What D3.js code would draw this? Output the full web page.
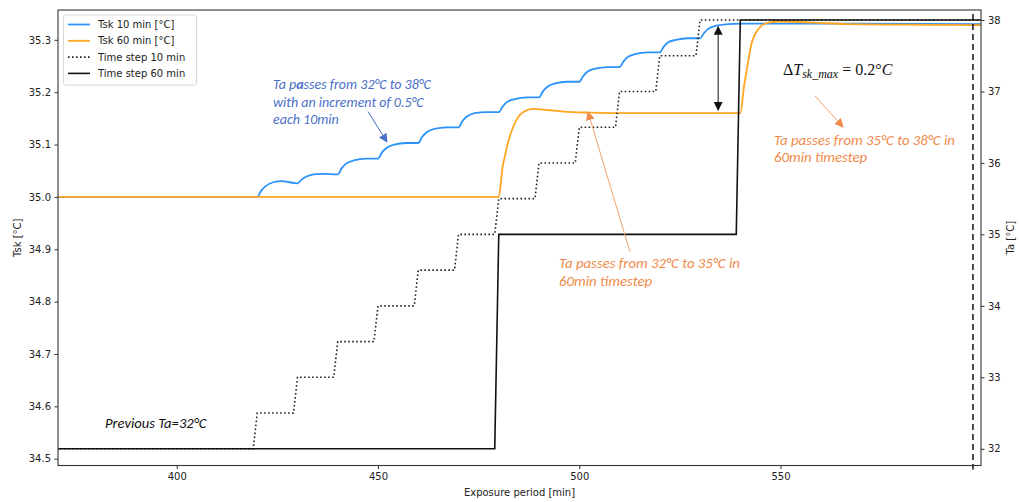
<!DOCTYPE html>
<html>
<head>
  <script src="https://d3js.org/d3.v7.min.js"></script>
  <style>
    body { margin: 0; background: #fff; }
    .tick text { font-family: "DejaVu Sans", sans-serif; font-size: 10px; fill: #222; }
    .axlabel { font-family: "DejaVu Sans", sans-serif; font-size: 10px; fill: #222; }
    .note { font-family: Carlito, Lato, sans-serif; font-style: italic; font-size: 14px; }
  </style>
</head>
<body>
<svg width="1019" height="502"></svg>
<script>
  // Tsk with 10 min time step, [minute, degC]
  const tsk10 = [
    [370, 35.000], [420, 35.000], [421, 35.012], [422, 35.020], [424, 35.028], [426, 35.030], [430, 35.026],
    [431, 35.033], [432, 35.038], [434, 35.043], [436, 35.044], [440, 35.043],
    [441, 35.055], [442, 35.063], [444, 35.070], [447, 35.073], [450, 35.073],
    [451, 35.085], [452, 35.093], [454, 35.100], [457, 35.103], [460, 35.103],
    [461, 35.115], [462, 35.123], [464, 35.130], [467, 35.133], [470, 35.133],
    [471, 35.145], [472, 35.153], [474, 35.160], [477, 35.162], [480, 35.162],
    [481, 35.173], [482, 35.181], [484, 35.187], [487, 35.190], [490, 35.190],
    [491, 35.202], [492, 35.210], [494, 35.217], [497, 35.220], [500, 35.220],
    [501, 35.231], [502, 35.239], [504, 35.245], [507, 35.248], [510, 35.248],
    [511, 35.259], [512, 35.267], [514, 35.273], [517, 35.276], [520, 35.276],
    [521, 35.287], [522, 35.295], [524, 35.300], [527, 35.303], [530, 35.303],
    [531, 35.313], [532, 35.321], [534, 35.327], [537, 35.330], [540, 35.331],
    [560, 35.331], [600, 35.330]
  ];
  // Tsk with 60 min time step
  const tsk60 = [
    [370, 35.000], [480, 35.000], [481, 35.060], [481.5, 35.077], [482.5, 35.110], [483.6, 35.134],
    [486.1, 35.162], [488.6, 35.168], [492, 35.166], [496, 35.163], [502.7, 35.161], [512.6, 35.160],
    [540, 35.160], [541, 35.215], [541.6, 35.242], [542.8, 35.293], [545, 35.325], [547, 35.333],
    [550, 35.335], [558, 35.333], [566.4, 35.330], [580, 35.329], [600, 35.328]
  ];
  // Ta, 10 min time step
  const ta10 = [
    [370, 32], [419, 32], [420, 32.5], [429, 32.5], [430, 33], [439, 33], [440, 33.5], [449, 33.5],
    [450, 34], [459, 34], [460, 34.5], [469, 34.5], [470, 35], [479, 35], [480, 35.5], [489, 35.5],
    [490, 36], [499, 36], [500, 36.5], [509, 36.5], [510, 37], [519, 37], [520, 37.5], [529, 37.5],
    [530, 38], [600, 38]
  ];
  // Ta, 60 min time step
  const ta60 = [[370, 32], [479, 32], [480, 35], [539, 35], [540, 38], [600, 38]];

  const xTicks = [400, 450, 500, 550];
  const tskTicks = [34.5, 34.6, 34.7, 34.8, 34.9, 35.0, 35.1, 35.2, 35.3];
  const taTicks = [32, 33, 34, 35, 36, 37, 38];
  const endLine = 597.8;

  const mLeft = 58, mRight = 981, mTop = 10, mBottom = 465.5;
  const svg = d3.select("svg");

  const x = d3.scaleLinear().domain([370.5, 599.8]).range([mLeft, mRight]);
  const yL = d3.scaleLinear().domain([34.487, 35.357]).range([mBottom, mTop]);
  const yR = d3.scaleLinear().domain([31.766, 38.14]).range([mBottom, mTop]);

  svg.append("clipPath").attr("id", "clip")
    .append("rect").attr("x", mLeft).attr("y", mTop).attr("width", mRight - mLeft).attr("height", mBottom - mTop);

  // arrow markers
  const defs = svg.append("defs");
  function marker(id, color, size) {
    defs.append("marker").attr("id", id)
      .attr("viewBox", "0 0 10 10").attr("refX", 9).attr("refY", 5)
      .attr("markerWidth", size).attr("markerHeight", size)
      .attr("markerUnits", "userSpaceOnUse")
      .attr("orient", "auto-start-reverse")
      .append("path").attr("d", "M0,0 L10,5 L0,10 z").attr("fill", color);
  }
  marker("arrK", "#111", 9);
  marker("arrB", "#4a6fc8", 9);
  marker("arrO", "#f08a4b", 9);

  const plot = svg.append("g").attr("clip-path", "url(#clip)");
  const lineL = d3.line().x(d => x(d[0])).y(d => yL(d[1])).curve(d3.curveMonotoneX);
  const lineR = d3.line().x(d => x(d[0])).y(d => yR(d[1]));

  plot.append("path").attr("d", lineL(tsk10)).attr("fill", "none")
    .attr("stroke", "#2b93fb").attr("stroke-width", 1.8);
  plot.append("path").attr("d", lineL(tsk60)).attr("fill", "none")
    .attr("stroke", "#ffa51f").attr("stroke-width", 1.8);
  plot.append("path").attr("d", lineR(ta10)).attr("fill", "none")
    .attr("stroke", "#222").attr("stroke-width", 1.6).attr("stroke-dasharray", "1.6,2.4");
  plot.append("path").attr("d", lineR(ta60)).attr("fill", "none")
    .attr("stroke", "#111").attr("stroke-width", 1.6);

  // dashed end marker
  svg.append("line").attr("x1", x(endLine)).attr("x2", x(endLine))
    .attr("y1", mTop + 4).attr("y2", mBottom + 4)
    .attr("stroke", "#111").attr("stroke-width", 1.5).attr("stroke-dasharray", "6,4");

  // axes
  svg.append("g").attr("transform", `translate(0,${mBottom})`)
    .call(d3.axisBottom(x).tickValues(xTicks).tickSize(3.5).tickPadding(3.5).tickFormat(d3.format("d")))
    .call(g => g.select(".domain").remove());
  svg.append("g").attr("transform", `translate(${mLeft},0)`)
    .call(d3.axisLeft(yL).tickValues(tskTicks).tickSize(3.5).tickPadding(3.5).tickFormat(d3.format(".1f")))
    .call(g => g.select(".domain").remove());
  svg.append("g").attr("transform", `translate(${mRight},0)`)
    .call(d3.axisRight(yR).tickValues(taTicks).tickSize(3.5).tickPadding(3.5).tickFormat(d3.format("d")))
    .call(g => g.select(".domain").remove());
  svg.selectAll(".tick line").attr("stroke", "#333");

  svg.append("rect").attr("x", mLeft).attr("y", mTop).attr("width", mRight - mLeft).attr("height", mBottom - mTop)
    .attr("fill", "none").attr("stroke", "#333").attr("stroke-width", 1.1);

  svg.append("text").attr("class", "axlabel").attr("x", (mLeft + mRight) / 2).attr("y", 496)
    .attr("text-anchor", "middle").text("Exposure period [min]");
  svg.append("text").attr("class", "axlabel").attr("transform", `translate(21,${(mTop + mBottom) / 2}) rotate(-90)`)
    .attr("text-anchor", "middle").text("Tsk [°C]");
  svg.append("text").attr("class", "axlabel").attr("transform", `translate(1014,${(mTop + mBottom) / 2}) rotate(-90)`)
    .attr("text-anchor", "middle").text("Ta [°C]");

  // legend
  const legendItems = [
    { label: "Tsk 10 min [°C]", color: "#2b93fb", dash: null, w: 1.8 },
    { label: "Tsk 60 min [°C]", color: "#ffa51f", dash: null, w: 1.8 },
    { label: "Time step 10 min", color: "#222", dash: "1.6,2.4", w: 1.6 },
    { label: "Time step 60 min", color: "#111", dash: null, w: 1.6 }
  ];
  const lg = svg.append("g");
  lg.append("rect").attr("x", 63.5).attr("y", 15).attr("width", 133).attr("height", 70).attr("rx", 2)
    .attr("fill", "#fff").attr("fill-opacity", 0.85).attr("stroke", "#d6d6d6");
  legendItems.forEach((d, i) => {
    const yy = 24.5 + i * 16.3;
    lg.append("line").attr("x1", 68).attr("x2", 90).attr("y1", yy).attr("y2", yy)
      .attr("stroke", d.color).attr("stroke-width", d.w).attr("stroke-dasharray", d.dash);
    lg.append("text").attr("class", "axlabel").attr("x", 98).attr("y", yy + 3.6).text(d.label);
  });

  // annotations
  const blueNote = svg.append("text").attr("class", "note").attr("fill", "#4a6fc8");
  const bl1 = blueNote.append("tspan").attr("x", 273).attr("y", 89);
  bl1.append("tspan").text("Ta p");
  bl1.append("tspan").attr("font-weight", "bold").text("a");
  bl1.append("tspan").text("sses from 32°C to 38°C");
  blueNote.append("tspan").attr("x", 273).attr("y", 106.5).text("with an increment of 0.5°C");
  blueNote.append("tspan").attr("x", 273).attr("y", 124).text("each 10min");
  svg.append("line").attr("x1", 368).attr("y1", 111.5).attr("x2", 387).attr("y2", 142)
    .attr("stroke", "#4a6fc8").attr("stroke-width", 1).attr("marker-end", "url(#arrB)");

  const o1 = svg.append("text").attr("class", "note").attr("fill", "#f08a4b").style("font-size", "14.8px");
  o1.append("tspan").attr("x", 559).attr("y", 268).text("Ta passes from 32°C to 35°C in");
  o1.append("tspan").attr("x", 559).attr("y", 286).text("60min timestep");
  svg.append("line").attr("x1", 630).attr("y1", 252).attr("x2", 588).attr("y2", 112)
    .attr("stroke", "#f4a070").attr("stroke-width", 1).attr("marker-end", "url(#arrO)");

  const o2 = svg.append("text").attr("class", "note").attr("fill", "#f08a4b").style("font-size", "14.8px");
  o2.append("tspan").attr("x", 774).attr("y", 144.5).text("Ta passes from 35°C to 38°C in");
  o2.append("tspan").attr("x", 774).attr("y", 162).text("60min timestep");
  svg.append("line").attr("x1", 815).attr("y1", 96).attr("x2", 843).attr("y2", 127)
    .attr("stroke", "#f4a070").attr("stroke-width", 1).attr("marker-end", "url(#arrO)");

  svg.append("text").attr("class", "note").attr("fill", "#111").style("font-size", "14.6px").attr("x", 105).attr("y", 427.5)
    .text("Previous Ta=32°C");

  // delta T arrow and label
  svg.append("line").attr("x1", x(534.5)).attr("x2", x(534.5))
    .attr("y1", yL(35.325)).attr("y2", yL(35.166))
    .attr("stroke", "#111").attr("stroke-width", 1)
    .attr("marker-start", "url(#arrK)").attr("marker-end", "url(#arrK)");
  const dt = svg.append("text").attr("x", 783).attr("y", 75)
    .attr("font-family", "'Liberation Serif', 'DejaVu Serif', serif").attr("font-size", 16).attr("fill", "#111");
  dt.append("tspan").text("Δ");
  dt.append("tspan").attr("font-style", "italic").text("T");
  dt.append("tspan").attr("font-style", "italic").attr("font-size", 12).attr("dy", 3).text("sk_max");
  dt.append("tspan").attr("dy", -3).text(" = 0.2°");
  dt.append("tspan").attr("font-style", "italic").text("C");
</script>
</body>
</html>
